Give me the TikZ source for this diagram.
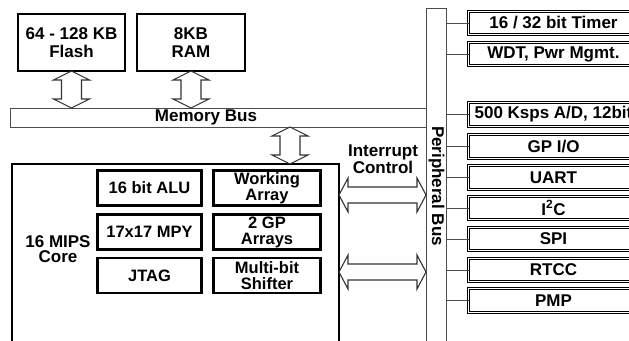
\documentclass[tikz,border=0pt]{standalone}
\usepackage{fontspec}
\setmainfont{Liberation Sans}
\usetikzlibrary{calc}
\newcommand\vdarr[2]{\draw[hollow] let \p1=(#1), \p2=(#2) in
  (\x1,\y1) -- (\x1+18pt,\y1-9pt) -- (\x1+10pt,\y1-9pt) -- (\x1+10pt,\y2+9pt) -- (\x1+18pt,\y2+9pt) -- (\x1,\y2)
  -- (\x1-18pt,\y2+9pt) -- (\x1-10pt,\y2+9pt) -- (\x1-10pt,\y1-9pt) -- (\x1-18pt,\y1-9pt) -- cycle;}
\newcommand\hdarr[2]{\draw[hollow] let \p1=(#1), \p2=(#2) in
  (\x1,\y1) -- (\x1+9pt,\y1+17pt) -- (\x1+9pt,\y1+8pt) -- (\x2-9pt,\y1+8pt) -- (\x2-9pt,\y1+17pt) -- (\x2,\y1)
  -- (\x2-9pt,\y1-17pt) -- (\x2-9pt,\y1-8pt) -- (\x1+9pt,\y1-8pt) -- (\x1+9pt,\y1-17pt) -- cycle;}
\begin{document}
\begin{tikzpicture}[x=1pt,y=-1pt,
  every node/.style={outer sep=0pt, inner sep=0pt},
  font=\fontsize{17}{18.5}\selectfont\bfseries,
  box/.style={draw, line width=2.5pt, align=center},
  ibox/.style={draw, line width=2.8pt, align=center, font=\fontsize{16.5}{16}\selectfont\bfseries},
  pbox/.style={draw, double, line width=1.3pt, double distance=0.8pt, align=center,
    minimum width=170pt, minimum height=23.5pt},
  bus/.style={draw=black!70, line width=0.8pt, fill=white},
  hollow/.style={draw=black!80, line width=1.1pt, line join=miter},
  wire/.style={draw=black!70, line width=0.9pt}]
\clip (0,0) rectangle (629,340);
\fill[white] (0,0) rectangle (629,340);
% memory
\node[box, minimum width=107pt, minimum height=57pt] (flash) at (71.5,42.5) {64 - 128 KB\\Flash};
\node[box, minimum width=108pt, minimum height=57pt] (ram) at (191,42.5) {8KB\\RAM};
% buses
\node[bus, minimum width=416pt, minimum height=19pt] (membus) at (218,117.5) {};
\node (mblabel) at (206,117.5) {Memory Bus};
\node[bus, minimum width=20pt, minimum height=350pt, anchor=north] (pbus) at (436,8) {};
\node[rotate=-90] (pblabel) at (436.5,186) {Peripheral Bus};
% core
\node[draw, line width=1.8pt, minimum width=327pt, minimum height=200pt, anchor=north west] (core) at (12,164) {};
\node[align=center, font=\fontsize{17}{15.5}\selectfont\bfseries] (corelabel) at (58,249) {16 MIPS\\Core};
\node[ibox, minimum width=104pt, minimum height=35pt] (alu) at (149.5,188) {16 bit ALU};
\node[ibox, minimum width=104pt, minimum height=35pt] (mpy) at (149.5,232) {17x17 MPY};
\node[ibox, minimum width=104pt, minimum height=35pt] (jtag) at (149.5,275.5) {JTAG};
\node[ibox, minimum width=107pt, minimum height=35pt] (warr) at (267,188) {Working\\Array};
\node[ibox, minimum width=107pt, minimum height=35pt] (gparr) at (267,232) {2 GP\\Arrays};
\node[ibox, minimum width=107pt, minimum height=35pt] (shift) at (267,275.5) {Multi-bit\\Shifter};
\node[align=center, font=\fontsize{17}{17.5}\selectfont\bfseries] (irq) at (383,159) {Interrupt\\Control};
% peripherals
\node[pbox] (timer) at (553.5,23) {16 / 32 bit Timer};
\node[pbox] (wdt) at (553.5,54) {WDT, Pwr Mgmt.};
\node[pbox] (adc) at (553.5,114.5) {500 Ksps A/D, 12bit};
\node[pbox] (gpio) at (553.5,146.5) {GP I/O};
\node[pbox] (uart) at (553.5,177.5) {UART};
\node[pbox] (i2c) at (553.5,208) {I\textsuperscript{2}C};
\node[pbox] (spi) at (553.5,239) {SPI};
\node[pbox] (rtcc) at (553.5,270) {RTCC};
\node[pbox] (pmp) at (553.5,300.5) {PMP};
\foreach \p in {timer,wdt,adc,gpio,uart,i2c,spi,rtcc,pmp}
  \draw[wire] (pbus.east |- \p.west) -- (\p.west);
% hollow double arrows
\vdarr{flash.south}{flash.south |- membus.north}
\vdarr{ram.south}{ram.south |- membus.north}
\coordinate (c1) at (290,0);
\vdarr{c1 |- membus.south}{c1 |- core.north}
\coordinate (i1) at (0,195);
\coordinate (i2) at (0,272);
\hdarr{core.east |- i1}{pbus.west |- i1}
\hdarr{core.east |- i2}{pbus.west |- i2}
\end{tikzpicture}
\end{document}
